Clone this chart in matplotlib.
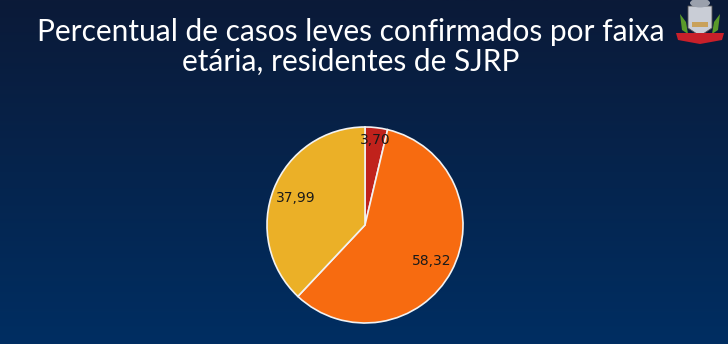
import numpy as np
import matplotlib
matplotlib.use('Agg')
from matplotlib import pyplot as plt
from matplotlib.patches import Polygon, Ellipse, Rectangle

# data
values = [3.70, 58.32, 37.99]
labels = ['3,70', '58,32', '37,99']
colors = ['#c0221c', '#f76b10', '#ebb027']
title_lines = [u'Percentual de casos leves confirmados por faixa',
               u'etária, residentes de SJRP']

W, H = 728, 344
fig = plt.figure(figsize=(W / 100, H / 100), dpi=100)

# background gradient
bg = fig.add_axes([0, 0, 1, 1])
grad = np.linspace(0, 1, 256).reshape(-1, 1)
top = np.array([0x0b, 0x1a, 0x38]) / 255.
bot = np.array([0x00, 0x2e, 0x62]) / 255.
img = top + (bot - top) * grad[..., None]
bg.imshow(img, aspect='auto', extent=[0, W, H, 0])
bg.set_xlim(0, W)
bg.set_ylim(H, 0)
bg.axis('off')

for i, line in enumerate(title_lines):
    bg.text(351, 32 + 30 * i, line, ha='center', va='center', color='white',
            fontsize=21.5, family='Lato')

# crest (rough)
bg.add_patch(Polygon([[688, 6], [712, 6], [712, 28], [700, 36], [688, 28]],
                     closed=True, fc='#c9cdd6', ec='#555', lw=0.6))
bg.add_patch(Ellipse((700, 3), 20, 9, fc='#9aa0ac', ec='none'))
bg.add_patch(Polygon([[680, 14], [686, 22], [688, 34], [682, 30]], fc='#5a9a2a', ec='none'))
bg.add_patch(Polygon([[720, 14], [714, 22], [712, 34], [718, 30]], fc='#5a9a2a', ec='none'))
bg.add_patch(Polygon([[676, 33], [724, 33], [722, 40], [700, 44], [678, 40]],
                     fc='#c8202a', ec='none'))
bg.add_patch(Rectangle((692, 22), 16, 5, fc='#c9a15a', ec='none'))

# pie
cx, cy, r = 365, 225, 98
box = 104
ax = fig.add_axes([(cx - box) / W, (H - cy - box) / H, 2 * box / W, 2 * box / H])
ax.set_aspect('equal')
wedges, _ = ax.pie(values, colors=colors, startangle=90, counterclock=False,
                   radius=1.0, wedgeprops=dict(edgecolor='#f2f2f2', linewidth=1.2))
ax.set_xlim(-box / r, box / r)
ax.set_ylim(-box / r, box / r)

dists = [0.87, 0.77, 0.76]
for w, lab, d in zip(wedges, labels, dists):
    ang = np.deg2rad((w.theta1 + w.theta2) / 2)
    ax.text(d * np.cos(ang), d * np.sin(ang), lab, ha='center', va='center',
            fontsize=10, color='#1a1a1a')

fig.savefig('out.png', dpi=100)
